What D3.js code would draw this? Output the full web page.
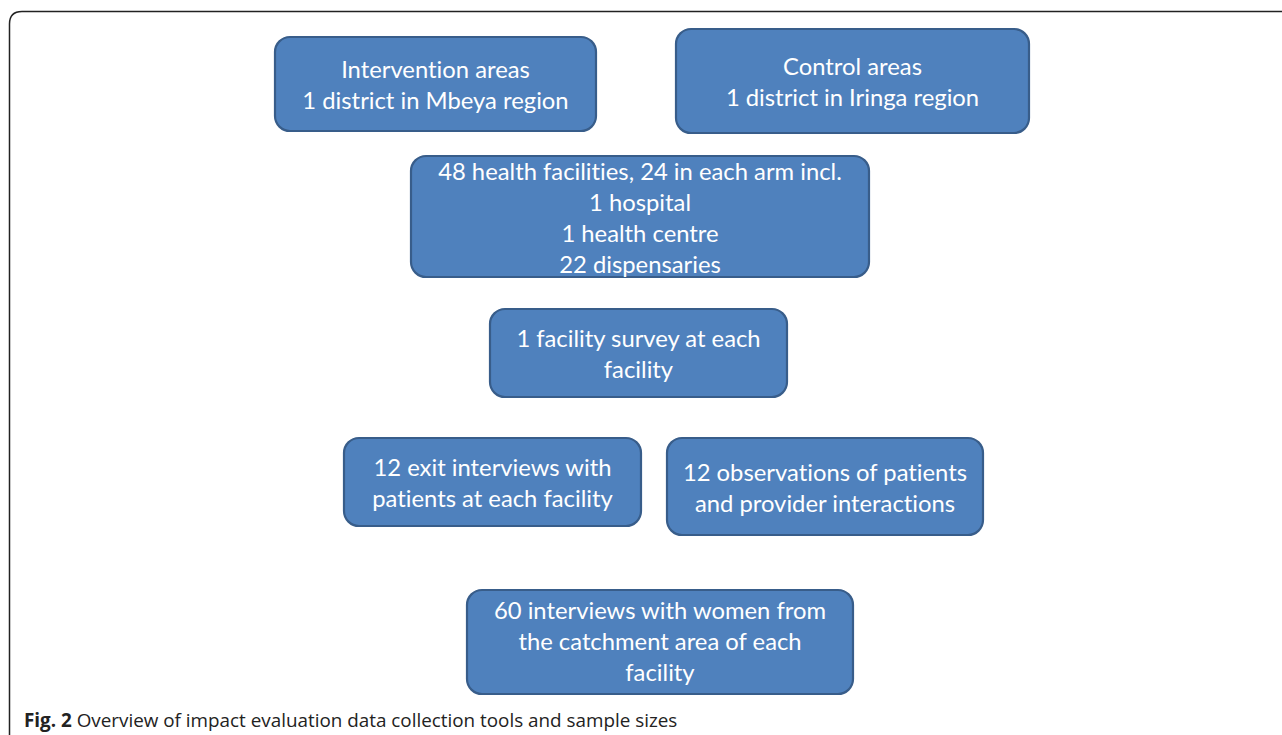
<!DOCTYPE html>
<html><head><meta charset="utf-8">
<script src="https://cdn.jsdelivr.net/npm/d3@7"></script>
<style>html,body{margin:0;padding:0;background:#fff;overflow:hidden} text{font-variant-ligatures:none;font-feature-settings:"liga" 0}</style>
</head><body>
<script>
// Content
const boxLabels = [
  ["Intervention areas", "1 district in Mbeya region"],
  ["Control areas", "1 district in Iringa region"],
  ["48 health facilities, 24 in each arm incl.", "1 hospital", "1 health centre", "22 dispensaries"],
  ["1 facility survey at each", "facility"],
  ["12 exit interviews with", "patients at each facility"],
  ["12 observations of patients", "and provider interactions"],
  ["60 interviews with women from", "the catchment area of each", "facility"]
];
const captionBold = "Fig. 2";
const captionText = " Overview of impact evaluation data collection tools and sample sizes";

// Layout (separate from content)
const layout = [
  {x0: 275, x1: 596, y0: 37, y1: 131, firstBaseline: 78},
  {x0: 676, x1: 1029, y0: 29, y1: 133, firstBaseline: 75},
  {x0: 411, x1: 869, y0: 156, y1: 277, firstBaseline: 180},
  {x0: 490, x1: 787, y0: 309, y1: 397, firstBaseline: 347},
  {x0: 344, x1: 641, y0: 438, y1: 526, firstBaseline: 476},
  {x0: 667, x1: 983, y0: 438, y1: 535, firstBaseline: 481},
  {x0: 467, x1: 853, y0: 590, y1: 694, firstBaseline: 619}
];
const W = 1282, H = 735;
const svg = d3.select("body").append("svg").attr("width", W).attr("height", H);

// Frame
svg.append("path")
  .attr("d", "M9.5,740 L9.5,24 Q9.5,11.5 22,11.5 L1290,11.5")
  .attr("fill", "none").attr("stroke", "#222").attr("stroke-width", 1.5);

const y = d3.scaleLinear().domain([0, 1]).range([0, 31]);
const g = svg.selectAll("g.box").data(boxLabels).join("g").attr("class", "box");
g.append("rect")
  .attr("x", (d, i) => layout[i].x0)
  .attr("y", (d, i) => layout[i].y0)
  .attr("width", (d, i) => layout[i].x1 - layout[i].x0)
  .attr("height", (d, i) => layout[i].y1 - layout[i].y0)
  .attr("rx", 15).attr("ry", 15)
  .attr("fill", "#4F81BD").attr("stroke", "#385D8A").attr("stroke-width", 2.2);
g.each(function(lines, i) {
  const L = layout[i];
  d3.select(this).selectAll("text").data(lines).join("text")
    .attr("x", (L.x0 + L.x1) / 2)
    .attr("y", (d, j) => L.firstBaseline + y(j))
    .attr("text-anchor", "middle")
    .attr("fill", "#fff")
    .attr("font-family", "Lato, 'Open Sans', sans-serif")
    .attr("font-size", 23.8)
    .text(d => d);
});

const cap = svg.append("text").attr("x", 24).attr("y", 727)
  .attr("font-family", "'Open Sans', Lato, sans-serif").attr("font-size", 18.85).attr("fill", "#222");
cap.append("tspan").attr("font-weight", "bold").text(captionBold);
cap.append("tspan").text(captionText);
</script>
</body></html>
